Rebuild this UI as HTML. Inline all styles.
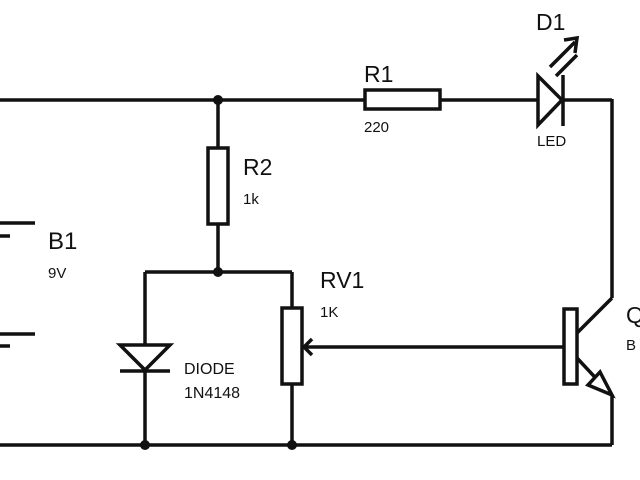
<!DOCTYPE html>
<html><head><style>
body{margin:0;background:#fff}
svg{display:block}
text{font-family:"Liberation Sans",sans-serif;fill:#111}
</style></head><body>
<svg width="640" height="480" viewBox="0 0 640 480" xmlns="http://www.w3.org/2000/svg">
<g stroke="#111" stroke-width="3.5" fill="none">
<line x1="0" y1="100" x2="365" y2="100"/>
<rect x="365" y="90" width="75" height="19" fill="#fff"/>
<line x1="440" y1="100" x2="538" y2="100"/>
<line x1="563" y1="100" x2="612" y2="100"/>
<line x1="612" y1="99" x2="612" y2="298"/>
<polygon points="538,76 538,125 562,100"/>
<line x1="563" y1="75" x2="563" y2="126"/>
<line x1="550" y1="67" x2="575" y2="42"/>
<line x1="556" y1="76" x2="577" y2="55"/>
<polyline points="564,40 577,38 575,53"/>
<line x1="218" y1="100" x2="218" y2="148"/>
<rect x="208" y="148" width="20" height="76" fill="#fff"/>
<line x1="218" y1="224" x2="218" y2="272"/>
<line x1="145" y1="272" x2="292" y2="272"/>
<line x1="145" y1="272" x2="145" y2="445"/>
<polygon points="120,345 170,345 145,370" fill="#fff"/>
<line x1="120" y1="371" x2="170" y2="371"/>
<line x1="292" y1="272" x2="292" y2="308"/>
<rect x="282" y="308" width="20" height="76" fill="#fff"/>
<line x1="292" y1="384" x2="292" y2="445"/>
<line x1="304" y1="347" x2="565" y2="347"/>
<polyline points="312,339 304,347 312,355"/>
<rect x="564" y="309" width="13" height="75" fill="#fff"/>
<line x1="577" y1="333" x2="612" y2="298"/>
<line x1="577" y1="358" x2="605" y2="388"/>
<polygon points="612,395 588,385 600,372" fill="#fff"/>
<line x1="612" y1="395" x2="612" y2="445"/>
<line x1="0" y1="445" x2="612" y2="445"/>
<line x1="0" y1="223" x2="35" y2="223"/>
<line x1="0" y1="236" x2="10" y2="236"/>
<line x1="0" y1="334" x2="35" y2="334"/>
<line x1="0" y1="346" x2="10" y2="346"/>
</g>
<g fill="#111">
<circle cx="218" cy="100" r="5"/>
<circle cx="218" cy="272" r="5"/>
<circle cx="145" cy="445" r="5"/>
<circle cx="292" cy="445" r="5"/>
</g>
<text x="364" y="82" font-size="23">R1</text>
<text x="364" y="132" font-size="15">220</text>
<text x="536" y="30" font-size="23">D1</text>
<text x="537" y="146" font-size="15">LED</text>
<text x="243" y="175" font-size="23">R2</text>
<text x="243" y="204" font-size="15">1k</text>
<text x="48" y="249" font-size="24">B1</text>
<text x="48" y="278" font-size="15">9V</text>
<text x="320" y="288" font-size="23">RV1</text>
<text x="320" y="317" font-size="15">1K</text>
<text x="184" y="374" font-size="16">DIODE</text>
<text x="184" y="398" font-size="16">1N4148</text>
<text x="626" y="323" font-size="23">Q</text>
<text x="626" y="350" font-size="15">B</text>
</svg>
</body></html>
